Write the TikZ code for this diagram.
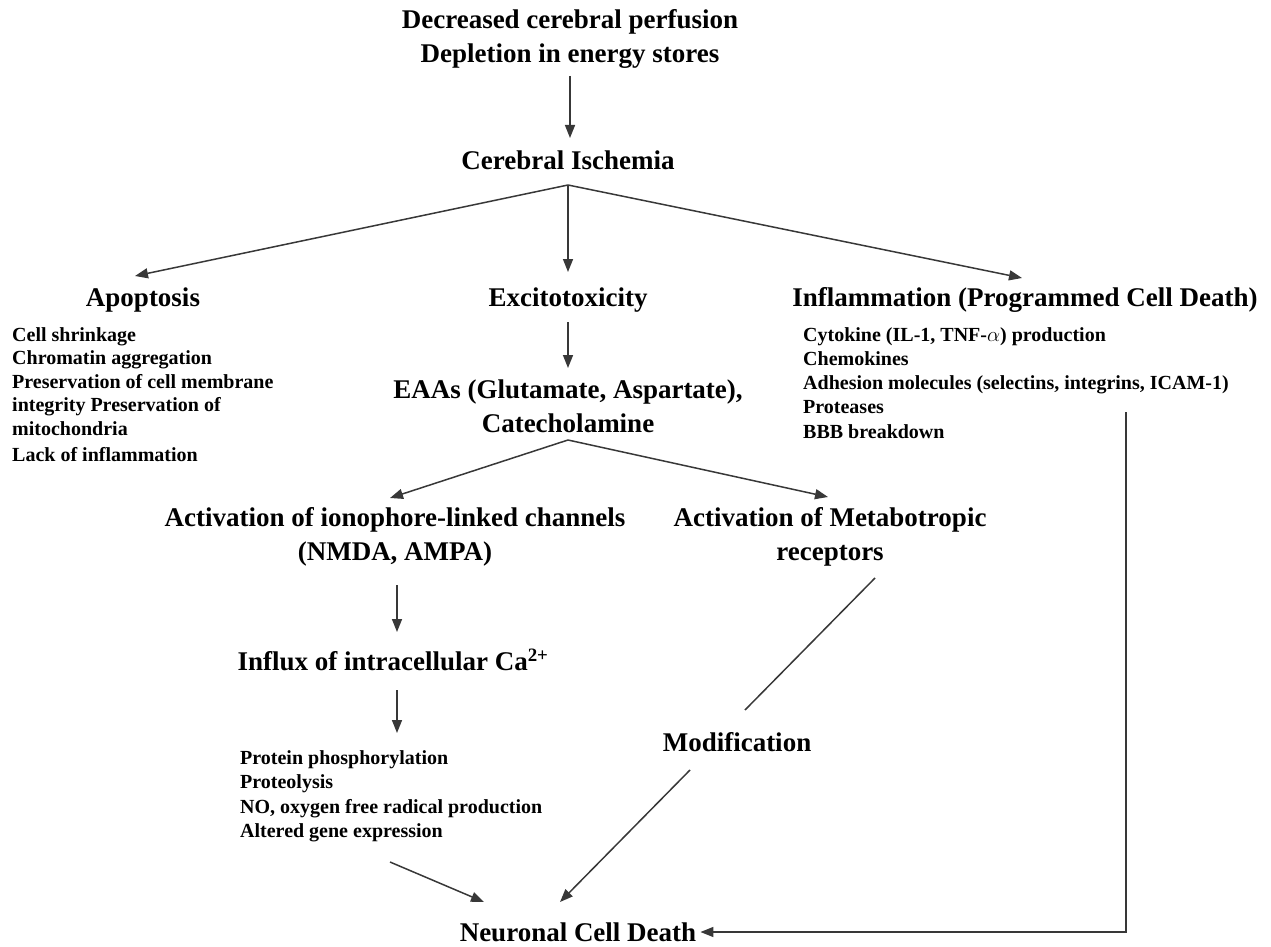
\documentclass[tikz,border=0pt]{standalone}
\usepackage{fontspec}
\setmainfont{Liberation Serif}
\usetikzlibrary{arrows.meta,calc}
\begin{document}
\begin{tikzpicture}[x=1pt,y=-1pt,
  big/.style={font=\fontsize{27}{34}\selectfont\bfseries, inner sep=0pt, align=center},
  small/.style={font=\fontsize{20}{23.5}\selectfont\bfseries, inner sep=0pt, align=left, anchor=north west},
  arr/.style={draw=black!78, line width=1.5pt, -{Triangle[length=13pt,width=10pt]}},
  ln/.style={draw=black!78, line width=1.5pt}]
\useasboundingbox (0,0) rectangle (1271,947);

\node[big] (top) at (570,39) {Decreased cerebral perfusion\\Depletion in energy stores};
\node[big] (isch) at (568,160) {Cerebral Ischemia};
\node[big] (apop) at (143,300) {Apoptosis};
\node[big] (exc) at (568,300) {Excitotoxicity};
\node[big] (infl) at (1025,300) {Inflammation (Programmed Cell Death)};
\node[small] (apoplist) at (12,327) {Cell shrinkage\\Chromatin aggregation\\Preservation of cell membrane\\integrity Preservation of\\mitochondria\\[3pt]Lack of inflammation};
\node[small, font=\fontsize{20}{24.3}\selectfont\bfseries] (infllist) at (803,327) {Cytokine (IL-1, TNF-$\alpha$) production\\Chemokines\\Adhesion molecules (selectins, integrins, ICAM-1)\\Proteases\\BBB breakdown};
\node[big] (eaa) at (568,406) {EAAs (Glutamate, Aspartate),\\Catecholamine};
\node[big] (iono) at (395,537) {Activation of ionophore-linked channels\\(NMDA, AMPA)};
\node[big] (meta) at (830,537) {Activation of Metabotropic\\receptors};
\node[big] (influx) at (393,660) {Influx of intracellular Ca\textsuperscript{2+}};
\node[small, font=\fontsize{20}{24.5}\selectfont\bfseries] (casc) at (240,750) {Protein phosphorylation\\Proteolysis\\NO, oxygen free radical production\\Altered gene expression};
\node[big] (modif) at (737,742) {Modification};
\node[big] (death) at (578,932) {Neuronal Cell Death};

\draw[arr] ($(top.center)+(0,37)$) -- ($(isch.center)+(2,-22)$);
\coordinate (fork1) at ($(isch.center)+(0,25)$);
\draw[arr] (fork1) -- ($(apop.center)+(-8,-24)$);
\draw[arr] (fork1) -- ($(exc.center)+(0,-28)$);
\draw[arr] (fork1) -- ($(infl.center)+(-3,-22)$);
\draw[arr] ($(exc.center)+(0,22)$) -- ($(eaa.center)+(0,-38)$);
\coordinate (fork2) at ($(eaa.center)+(0,34)$);
\draw[arr] (fork2) -- ($(iono.center)+(-5,-39)$);
\draw[arr] (fork2) -- ($(meta.center)+(-2,-40)$);
\draw[arr] ($(iono.center)+(2,48)$) -- ($(influx.center)+(4,-28)$);
\draw[arr] ($(influx.center)+(4,30)$) -- ($(casc.north west)+(157,-17)$);
\draw[ln] ($(meta.center)+(45,41)$) -- ($(modif.center)+(8,-32)$);
\draw[arr] ($(modif.center)+(-47,28)$) -- ($(death.center)+(-18,-30)$);
\draw[arr] ($(casc.north west)+(150,112)$) -- ($(death.center)+(-94,-30)$);
\coordinate (rt) at ($(infllist.north west)+(323,85)$);
\draw[arr] (rt) |- ($(death.east)+(4,0)$);
\end{tikzpicture}
\end{document}
